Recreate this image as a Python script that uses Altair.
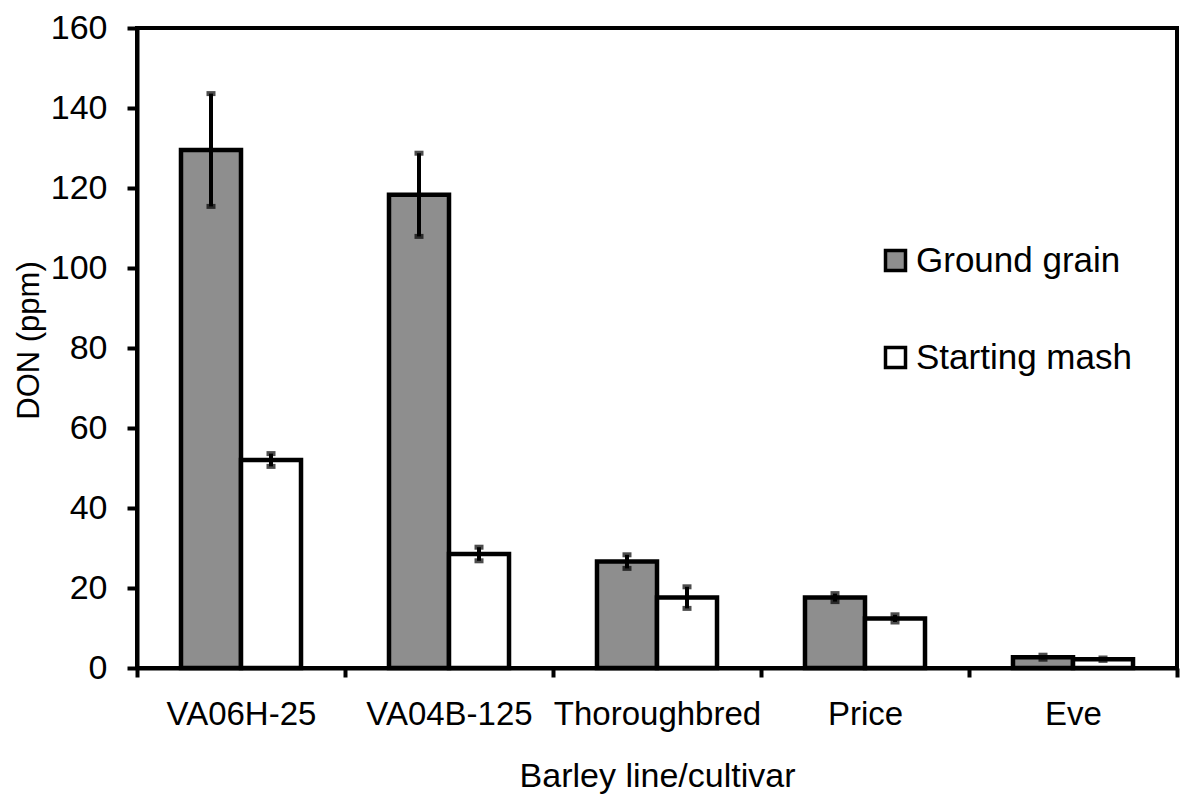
import altair as alt
import pandas as pd

cultivars = ["VA06H-25", "VA04B-125", "Thoroughbred", "Price", "Eve"]
series = ["Ground grain", "Starting mash"]
ground = [129.5, 118.3, 26.6, 17.6, 2.7]
ground_err = [14.1, 10.4, 1.7, 1.0, 0.5]
mash = [52.0, 28.5, 17.6, 12.4, 2.2]
mash_err = [1.6, 1.7, 2.7, 0.9, 0.3]
y_ticks = [0, 20, 40, 60, 80, 100, 120, 140, 160]

rows = []
for i, c in enumerate(cultivars):
    rows.append({"cultivar": c, "series": series[0], "value": ground[i],
                 "lo": ground[i] - ground_err[i], "hi": ground[i] + ground_err[i]})
    rows.append({"cultivar": c, "series": series[1], "value": mash[i],
                 "lo": mash[i] - mash_err[i], "hi": mash[i] + mash_err[i]})
df = pd.DataFrame(rows)

FONT = "Liberation Sans"

x_enc = alt.X("cultivar:N", sort=cultivars,
              scale=alt.Scale(paddingInner=0, paddingOuter=0),
              axis=alt.Axis(title="Barley line/cultivar", labelAngle=0, labelLimit=0,
                            tickBand="extent", tickSize=9, tickWidth=4,
                            tickColor="black", domainColor="black", domainWidth=4,
                            labelFont=FONT, labelFontSize=33, labelColor="black",
                            labelPadding=21, titleFont=FONT, titleFontSize=34,
                            titleFontWeight="normal", titleColor="black",
                            titleY=118, titleBaseline="alphabetic"))
xo_enc = alt.XOffset("series:N", sort=series,
                     scale=alt.Scale(paddingInner=0, paddingOuter=0.733))
y_scale = alt.Scale(domain=[0, 160], nice=False)

bars = alt.Chart(df).mark_bar(stroke="black", strokeWidth=4.5).encode(
    x=x_enc,
    xOffset=xo_enc,
    y=alt.Y("value:Q", scale=y_scale,
            axis=alt.Axis(title="DON (ppm)", values=y_ticks, grid=False,
                          tickSize=10, tickWidth=4, tickColor="black",
                          domainColor="black", domainWidth=4,
                          labelFont=FONT, labelFontSize=34, labelColor="black",
                          labelPadding=20, titleFont=FONT, titleFontSize=31,
                          titleFontWeight="normal", titleColor="black",
                          titleX=-99, titleY=312, titleBaseline="alphabetic",
                          titleAlign="center")),
    fill=alt.Fill("series:N", sort=series,
                  scale=alt.Scale(domain=series, range=["#8e8e8e", "#ffffff"]),
                  legend=alt.Legend(title=None, orient="none", legendX=741, legendY=215,
                                    symbolType="square", symbolSize=400,
                                    symbolStrokeColor="black", symbolStrokeWidth=3.5,
                                    labelFont=FONT, labelFontSize=35, labelColor="black",
                                    labelLimit=0, labelOffset=3, rowPadding=61, padding=0)),
)

err = alt.Chart(df).mark_rule(color="black", strokeWidth=4).encode(
    x=alt.X("cultivar:N", sort=cultivars),
    xOffset=alt.XOffset("series:N", sort=series),
    y=alt.Y("lo:Q", scale=y_scale),
    y2="hi:Q",
)
cap_lo = alt.Chart(df).mark_tick(color="black", thickness=5, size=9, orient="horizontal").encode(
    x=alt.X("cultivar:N", sort=cultivars),
    xOffset=alt.XOffset("series:N", sort=series),
    y=alt.Y("lo:Q", scale=y_scale),
)
cap_hi = alt.Chart(df).mark_tick(color="black", thickness=5, size=9, orient="horizontal").encode(
    x=alt.X("cultivar:N", sort=cultivars),
    xOffset=alt.XOffset("series:N", sort=series),
    y=alt.Y("hi:Q", scale=y_scale),
)

chart = alt.layer(bars, err, cap_lo, cap_hi).properties(
    width=1040, height=640,
    autosize=alt.AutoSizeParams(type="none"),
    padding={"left": 129, "top": 20, "right": 15, "bottom": 127},
    background="white",
).configure_view(stroke="black", strokeWidth=4, strokeOpacity=1)

chart.save("out.html", embed_options={"renderer": "svg", "actions": False})
